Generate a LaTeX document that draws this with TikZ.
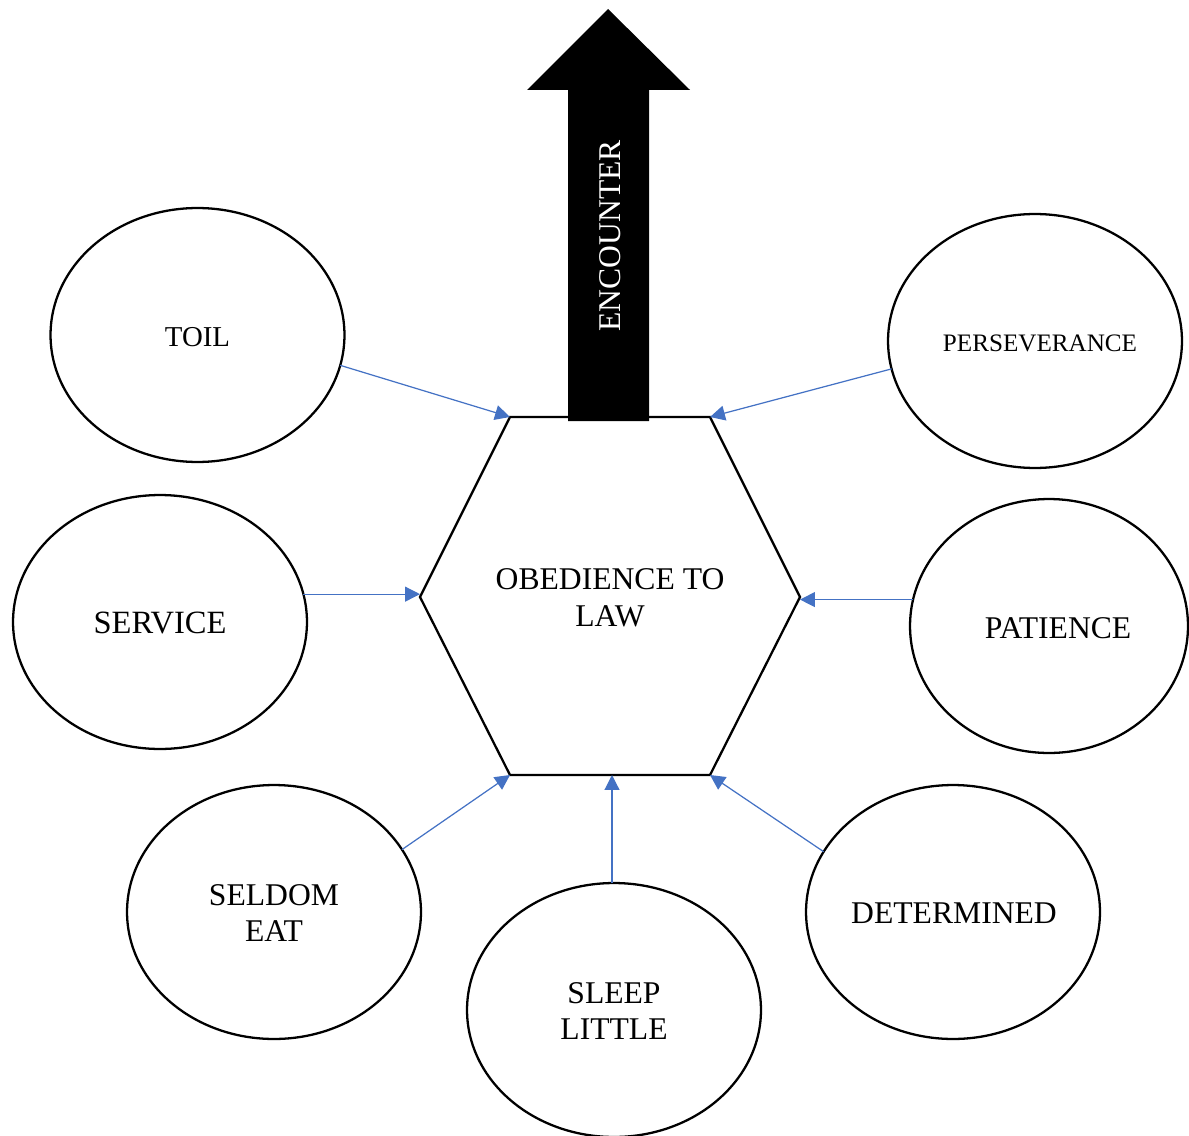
\documentclass[tikz,border=0pt]{standalone}
\usepackage{fontspec}
\setmainfont{Liberation Serif}
\usetikzlibrary{shapes.geometric,arrows.meta}
\definecolor{linkblue}{HTML}{4472C4}
\begin{document}
\begin{tikzpicture}[x=0.02cm,y=-0.02cm,
  bubble/.style={draw=black,line width=1.3pt,ellipse,inner sep=0pt,outer sep=0pt,
    minimum width=5.88cm,minimum height=5.08cm},
  lbl/.style={inner sep=0pt,align=center,font=\fontsize{18}{20.8}\selectfont},
  link/.style={draw=linkblue,line width=0.7pt,-{Triangle[length=8.5pt,width=8.5pt]}}]
\useasboundingbox (0,0) rectangle (1189,1135);

% central hexagon
\coordinate (hTL) at (510,417);
\coordinate (hTR) at (710,417);
\coordinate (hR)  at (800,597);
\coordinate (hBR) at (710,775);
\coordinate (hBL) at (510,775);
\coordinate (hL)  at (420,597);
\coordinate (hB)  at (612,775);
\draw[line width=1.3pt,line join=miter] (hTL) -- (hTR) -- (hR) -- (hBR) -- (hBL) -- (hL) -- cycle;
\node[lbl] (law) at (610,598) {OBEDIENCE TO\\LAW};

% upward block arrow
\fill[black] (568,421) -- (568,90) -- (527,90) -- (608,9) -- (690,90) -- (649,90) -- (649,421) -- cycle;
\node[lbl,text=white,rotate=90] (enc) at (610,236) {ENCOUNTER};

% surrounding qualities
\node[bubble] (toil) at (197.5,335) {};
\node[lbl,font=\fontsize{16.4}{19}\selectfont] (toilt) at (197.5,337) {TOIL};
\node[bubble] (pers) at (1035,341) {};
\node[lbl,font=\fontsize{14.3}{17}\selectfont] (perst) at (1040,343) {PERSEVERANCE};
\node[bubble] (serv) at (160,622) {};
\node[lbl,font=\fontsize{18.5}{21}\selectfont] (servt) at (160,623) {SERVICE};
\node[bubble,minimum width=5.56cm] (pat) at (1049,626) {};
\node[lbl] (patt) at (1058,628) {PATIENCE};
\node[bubble] (seld) at (274,912) {};
\node[lbl] (seldt) at (274,913) {SELDOM\\EAT};
\node[bubble] (sleep) at (614,1010) {};
\node[lbl] (sleept) at (614,1011) {SLEEP\\LITTLE};
\node[bubble] (det) at (953,912) {};
\node[lbl] (dett) at (954,913) {DETERMINED};

% connectors into the hexagon
\draw[link] (toil.-12.5) -- (hTL);
\draw[link] (pers.191) -- (hTR);
\draw[link] (serv.11.5) -- (serv.11.5 -| hL);
\draw[link] (pat.169) -- (pat.169 -| hR);
\draw[link] (seld.26) -- (hBL);
\draw[link] (hB |- sleep.north) -- (hB);
\draw[link] (det.155) -- (hBR);
\end{tikzpicture}
\end{document}
